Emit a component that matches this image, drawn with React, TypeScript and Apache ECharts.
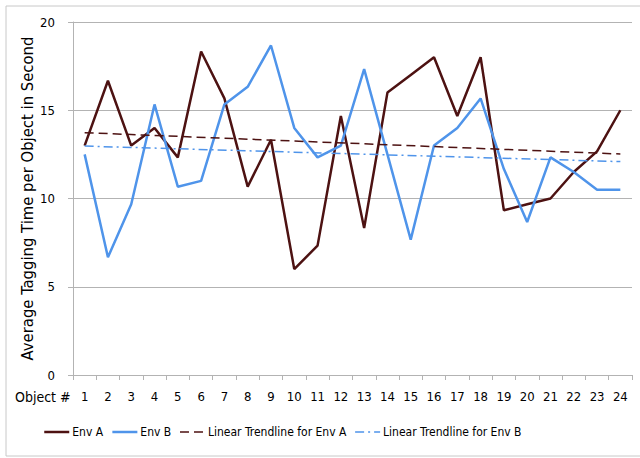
import React, { useEffect, useRef } from "react";
import * as echarts from "echarts";

const categories = ["1","2","3","4","5","6","7","8","9","10","11","12","13","14","15","16","17","18","19","20","21","22","23","24"];
const envA = [13.0, 16.67, 13.0, 14.0, 12.33, 18.33, 15.67, 10.67, 13.33, 6.0, 7.33, 14.67, 8.33, 16.0, 17.0, 18.0, 14.67, 18.0, 9.33, 9.67, 10.0, 11.5, 12.67, 15.0];
const envB = [12.5, 6.67, 9.67, 15.33, 10.67, 11.0, 15.33, 16.33, 18.67, 14.0, 12.33, 13.0, 17.33, 12.5, 7.67, 13.0, 14.0, 15.67, 11.67, 8.67, 12.33, 11.5, 10.5, 10.5];
const trendA = [[0, 13.73], [23, 12.52]];
const trendB = [[0, 12.97], [23, 12.09]];
const yTicks = { min: 0, max: 20, interval: 5 };

const FONT = "'Liberation Sans Narrow', 'DejaVu Sans Condensed', 'Liberation Sans', sans-serif";
const COL_A = "#4d1212";
const COL_B = "#4f94ea";
const GRID = "#b3b3b3";
const DASH_A = [9, 5];
const DASH_B = [9, 4, 2, 4];

export default function App() {
  const ref = useRef<HTMLDivElement>(null);
  useEffect(() => {
    if (!ref.current) return;
    const chart = echarts.init(ref.current, null, { renderer: "svg" });
    chart.setOption({
      animation: false,
      backgroundColor: "#ffffff",
      textStyle: { fontFamily: FONT, color: "#000" },
      grid: { left: 73, right: 8, top: 22, bottom: 83 },
      graphic: [
        {
          type: "rect",
          shape: { x: 6, y: 6, width: 660, height: 450 },
          style: { fill: "none", stroke: "#c8c8c8", lineWidth: 1 },
          silent: true,
        },
        {
          type: "text",
          x: 15,
          y: 397,
          style: { text: "Object #", font: `14px ${FONT}`, fill: "#000", textVerticalAlign: "middle" },
        },
      ],
      legend: {
        bottom: 15,
        left: 38,
        itemWidth: 25,
        itemHeight: 10,
        itemGap: 8,
        itemStyle: { opacity: 0 },
        textStyle: { fontFamily: FONT, fontSize: 12, color: "#000", padding: [0, 0, 0, -2] },
        data: [
          { name: "Env A", lineStyle: { color: COL_A, width: 2.5, type: "solid" } },
          { name: "Env B", lineStyle: { color: COL_B, width: 2.5, type: "solid" } },
          { name: "Linear Trendline for Env A", lineStyle: { color: COL_A, width: 1.5, type: DASH_A } },
          { name: "Linear Trendline for Env B", lineStyle: { color: COL_B, width: 1.5, type: DASH_B } },
        ],
      },
      xAxis: {
        type: "category",
        data: categories,
        boundaryGap: true,
        axisLine: { lineStyle: { color: GRID } },
        axisTick: { show: true, length: 5, lineStyle: { color: GRID } },
        axisLabel: { fontFamily: FONT, fontSize: 13, color: "#000", margin: 15, interval: 0 },
      },
      yAxis: {
        type: "value",
        min: yTicks.min,
        max: yTicks.max,
        interval: yTicks.interval,
        name: "Average Tagging Time per Object in Second",
        nameLocation: "middle",
        nameGap: 37,
        nameMoveOverlap: false,
        nameTextStyle: { fontFamily: FONT, fontSize: 16.5, color: "#000" },
        axisLine: { show: true, lineStyle: { color: GRID } },
        axisTick: { show: true, length: 5, lineStyle: { color: GRID } },
        axisLabel: { fontFamily: FONT, fontSize: 13, color: "#000", margin: 18 },
        splitLine: { lineStyle: { color: GRID } },
      },
      series: [
        { name: "Env A", type: "line", data: envA, symbol: "none", lineStyle: { color: COL_A, width: 2.5 }, itemStyle: { color: COL_A } },
        { name: "Env B", type: "line", data: envB, symbol: "none", lineStyle: { color: COL_B, width: 2.5 }, itemStyle: { color: COL_B } },
        { name: "Linear Trendline for Env A", type: "line", data: trendA, symbol: "none", lineStyle: { color: COL_A, width: 1.5, type: DASH_A }, itemStyle: { color: COL_A } },
        { name: "Linear Trendline for Env B", type: "line", data: trendB, symbol: "none", lineStyle: { color: COL_B, width: 1.5, type: DASH_B }, itemStyle: { color: COL_B } },
      ],
    });
    return () => chart.dispose();
  }, []);
  return <div ref={ref} style={{ position: "fixed", left: 0, top: 0, width: 640, height: 458 }} />;
}
